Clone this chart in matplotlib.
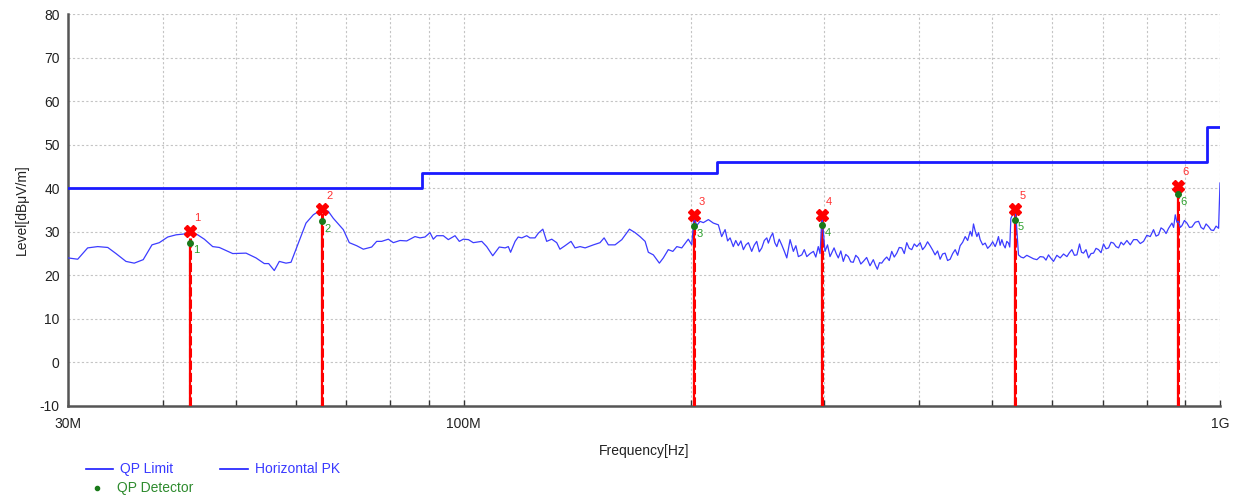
import matplotlib
matplotlib.use("Agg")
import matplotlib.pyplot as plt
from matplotlib.lines import Line2D

plt.rcParams['font.family'] = ['Liberation Sans', 'DejaVu Sans']
plt.rcParams['axes.unicode_minus'] = False

# limit line (FCC class B, 3 m) - MHz / dBuV/m
limit_freq = [30, 88, 88, 216, 216, 960, 960, 1000]
limit_level = [40, 40, 43.5, 43.5, 46, 46, 54, 54]

# horizontal peak trace
pk_freq = [
    30.0, 30.9, 31.85, 32.84, 33.86, 34.72, 35.79, 36.70, 37.72, 38.74,
    39.61, 40.64, 41.68, 42.74, 43.49, 44.52, 45.43, 46.60, 47.55, 49.53,
    51.58, 53.17, 54.53, 55.26, 56.21, 57.08, 58.25, 59.15, 60.37, 61.91,
    63.30, 65.0, 66.26, 67.27, 69.35, 70.63, 72.24, 73.71, 75.61, 76.77,
    77.95, 79.54, 80.76, 82.42, 84.12, 86.26, 87.59, 88.93, 90.30, 91.21,
    92.16, 94.03, 95.47, 97.44, 98.72, 99.93, 101.5, 103.0, 105.7, 107.3,
    109.3, 111.5, 113.5, 114.6, 115.4, 117.0, 118.1, 119.4, 121.2, 122.4,
    124.3, 125.6, 127.3, 128.8, 130.8, 132.8, 134.1, 136.2, 138.7, 140.4,
    142.6, 144.8, 148.5, 151.5, 153.4, 155.4, 158.6, 161.9, 165.7, 168.6,
    171.1, 173.8, 175.5, 178.2, 181.5, 183.7, 186.5, 189.1, 191.4, 194.3,
    198.2, 200.3, 201.7, 203.3, 205.4, 207.5, 210.7, 213.9, 217.2, 219.4,
    221.7, 223.4, 225.1, 227.3, 229.0, 230.8, 232.6, 234.4, 236.2, 238.0,
    240.4, 242.2, 244.1, 246.0, 247.9, 249.8, 251.7, 252.9, 254.6, 256.3,
    257.9, 259.5, 261.4, 263.4, 265.4, 267.5, 270.2, 272.9, 275.0, 277.1,
    280.0, 282.1, 284.3, 287.2, 290.1, 292.2, 294.4, 296.0, 297.8, 300.5,
    302.8, 305.1, 308.9, 310.9, 312.9, 315.3, 317.7, 320.1, 322.6, 325.0,
    327.5, 330.0, 332.6, 335.1, 337.7, 341.1, 344.6, 348.1, 350.2, 352.4,
    354.7, 357.1, 359.8, 362.6, 365.4, 368.2, 371.0, 373.9, 376.7, 379.6,
    382.5, 385.4, 388.3, 391.3, 394.3, 397.4, 401.4, 404.4, 407.5, 410.6,
    413.8, 417.0, 420.1, 423.3, 426.6, 429.8, 433.1, 436.4, 439.8, 443.2,
    446.6, 450.0, 453.4, 456.9, 460.4, 463.9, 467.5, 470.0, 472.2, 474.6,
    477.1, 479.5, 481.9, 485.6, 489.3, 493.0, 496.8, 500.6, 504.4, 507.0,
    509.5, 512.1, 514.8, 517.4, 520.0, 522.6, 525.3, 527.3, 529.1, 535.8,
    537.7, 541.5, 545.6, 549.8, 555.4, 561.1, 566.9, 572.7, 578.5, 584.3,
    588.8, 593.3, 597.8, 602.4, 608.6, 614.8, 621.1, 627.5, 632.3, 637.1,
    642.0, 646.9, 652.1, 656.0, 660.0, 665.1, 670.2, 675.3, 680.5, 685.7,
    690.9, 696.2, 701.5, 706.9, 712.3, 717.7, 723.2, 728.7, 734.3, 739.9,
    745.6, 753.2, 760.9, 768.7, 776.6, 784.5, 792.4, 800.5, 808.7, 816.8,
    823.1, 829.4, 835.7, 842.1, 848.6, 855.1, 863.9, 868.3, 872.7, 877.0,
    881.5, 886.0, 890.6, 897.4, 904.3, 911.2, 918.2, 927.5, 936.8, 944.0,
    951.2, 958.5, 965.8, 973.2, 980.6, 988.1, 995.7, 1000.0,
]
pk_level = [
    24.0, 23.7, 26.3, 26.6, 26.4, 25.0, 23.2, 22.8, 23.6, 27.0,
    27.5, 28.8, 29.3, 29.5, 30.1, 29.3, 28.3, 26.6, 26.4, 25.0,
    25.1, 24.0, 22.7, 22.7, 21.1, 23.2, 22.8, 23.0, 27.0, 32.0,
    33.9, 35.2, 34.7, 33.1, 30.5, 27.5, 26.8, 26.0, 26.5, 27.8,
    27.8, 28.3, 27.5, 28.0, 27.9, 28.9, 28.6, 28.8, 29.8, 28.3,
    29.1, 29.1, 28.2, 29.1, 27.8, 28.3, 28.2, 27.5, 27.8, 26.6,
    24.5, 26.5, 26.3, 26.6, 25.3, 27.8, 28.8, 28.6, 29.1, 28.6,
    28.6, 29.7, 30.6, 27.8, 28.3, 27.5, 26.0, 26.8, 27.8, 26.3,
    26.6, 26.3, 27.0, 27.5, 28.6, 27.0, 27.0, 28.2, 30.6, 29.8,
    28.9, 27.8, 25.3, 24.7, 22.8, 24.0, 25.9, 25.5, 26.6, 26.3,
    28.3, 27.0, 33.5, 31.4, 32.4, 32.1, 32.8, 32.0, 31.6, 28.9,
    30.5, 27.9, 28.6, 26.6, 28.0, 26.8, 27.9, 25.9, 27.0, 27.5,
    25.5, 26.9, 27.8, 25.4, 26.3, 28.0, 28.6, 27.4, 28.8, 29.7,
    27.5, 26.6, 28.3, 27.0, 25.6, 24.0, 28.2, 25.5, 26.8, 24.3,
    24.7, 25.9, 24.3, 25.0, 25.5, 24.2, 26.6, 25.0, 33.5, 25.5,
    27.0, 24.3, 26.3, 25.0, 24.0, 25.6, 23.2, 24.8, 24.3, 23.1,
    23.0, 24.6, 24.0, 22.6, 23.2, 24.1, 22.2, 23.6, 22.4, 21.4,
    22.9, 22.8, 23.6, 24.2, 23.4, 25.5, 24.2, 25.1, 26.4, 26.3,
    25.0, 27.5, 26.2, 25.9, 27.2, 26.6, 27.5, 25.9, 26.6, 27.7,
    26.8, 25.8, 24.7, 25.6, 23.7, 24.9, 25.1, 23.4, 23.7, 25.0,
    25.9, 24.6, 26.8, 27.6, 28.9, 28.0, 30.1, 29.0, 31.8, 30.2,
    28.9, 29.8, 28.2, 27.0, 27.4, 26.2, 26.8, 27.7, 26.6, 27.6,
    28.9, 26.9, 28.2, 27.0, 26.3, 27.8, 27.4, 26.5, 33.1, 35.0,
    32.8, 24.7, 24.2, 24.0, 24.6, 24.2, 23.8, 23.6, 24.3, 24.2,
    23.5, 24.7, 23.9, 23.2, 24.6, 24.0, 24.9, 24.3, 25.2, 25.9,
    24.6, 24.7, 27.2, 25.3, 25.1, 25.9, 24.0, 25.0, 25.1, 26.2,
    25.9, 25.2, 27.2, 26.1, 26.3, 27.6, 27.4, 26.6, 26.3, 27.6,
    27.0, 28.0, 27.0, 28.2, 28.2, 27.3, 27.8, 29.2, 28.9, 30.5,
    29.0, 29.3, 30.9, 30.5, 29.6, 30.8, 32.0, 31.0, 33.9, 32.2,
    32.4, 31.0, 31.4, 32.6, 32.0, 31.0, 31.1, 32.2, 32.4, 31.0,
    30.6, 31.8, 31.2, 30.4, 30.3, 31.3, 30.8, 41.2,
]

# final measurement markers
mk_freq = [43.5, 65.0, 201.7, 297.8, 535.8, 880.0]
mk_pk = [30.2, 35.2, 33.8, 33.8, 35.2, 40.6]
mk_qp = [27.5, 32.5, 31.3, 31.5, 32.8, 38.6]
mk_names = ['1', '2', '3', '4', '5', '6']

grid_freq = [40, 50, 60, 70, 80, 90, 100, 200, 300, 400, 500, 600, 700, 800, 900, 1000]
tick_freq = [30, 100, 1000]
tick_text = ['30M', '100M', '1G']

fig = plt.figure(figsize=(12.43, 4.97), dpi=100)
ax = fig.add_axes([0.0547, 0.1831, 0.9268, 0.7887])
ax.set_xscale('log')
ax.set_xlim(30, 1000)
ax.set_ylim(-10, 80)

# grid
for f in grid_freq:
    ax.axvline(f, color='#c4c4c4', lw=0.8, ls=(0, (2, 2)), zorder=0)
for lv in range(0, 90, 10):
    ax.axhline(lv, color='#c4c4c4', lw=0.8, ls=(0, (2, 2)), zorder=0)

# vertical marker lines
for f, pk, qp in zip(mk_freq, mk_pk, mk_qp):
    ax.plot([f, f], [-10, pk], color='red', lw=2.2, ls=(0, (3, 1)), zorder=3)
    ax.plot([f, f], [-10, qp], color='red', lw=1.6, zorder=3)

ax.plot(limit_freq, limit_level, color='#1a1aff', lw=2.0, zorder=4)
ax.plot(pk_freq, pk_level, color='#3c3cff', lw=0.9, zorder=4)

ax.plot(mk_freq, mk_pk, ls='none', marker='X', ms=9, color='red', mec='red', zorder=6)
ax.plot(mk_freq, mk_qp, ls='none', marker='o', ms=4, color='#1a7a1a', zorder=7)
for f, pk, qp, n in zip(mk_freq, mk_pk, mk_qp, mk_names):
    ax.annotate(n, (f, pk), xytext=(3, 6), textcoords='offset points',
                color='#ff3030', fontsize=8, ha='left', va='bottom')
    ax.annotate(n, (f, qp), xytext=(2, -2), textcoords='offset points',
                color='#2ca02c', fontsize=8, ha='left', va='top')

# axes styling
for s in ['top', 'right']:
    ax.spines[s].set_visible(False)
for s in ['left', 'bottom']:
    ax.spines[s].set_color('#555555')
    ax.spines[s].set_linewidth(1.8)

ax.set_yticks(range(-10, 90, 10))
ax.tick_params(axis='y', length=0, labelsize=10, pad=6, labelcolor='#222222')
ax.xaxis.set_minor_locator(matplotlib.ticker.NullLocator())
ax.set_xticks(grid_freq, minor=True)
ax.set_xticks(tick_freq)
ax.set_xticklabels(tick_text)
ax.tick_params(axis='x', which='both', direction='in', length=4, width=1,
               color='#333333', labelsize=10, pad=8, labelcolor='#222222')
ax.tick_params(axis='x', which='minor', labelbottom=False)

ax.set_xlabel('Frequency[Hz]', fontsize=10, color='#222222', labelpad=9)
ax.set_ylabel('Level[dBμV/m]', fontsize=10, color='#222222', labelpad=8)

# legend drawn by hand below the axes
fig.add_artist(Line2D([86 / 1243, 113 / 1243], [1 - 469 / 497] * 2,
                      color='#1a1aff', lw=1.2, transform=fig.transFigure))
fig.text(120 / 1243, 1 - 469 / 497, 'QP Limit', color='#3a3aff', fontsize=10, va='center')
fig.add_artist(Line2D([220 / 1243, 248 / 1243], [1 - 469 / 497] * 2,
                      color='#1a1aff', lw=1.2, transform=fig.transFigure))
fig.text(255 / 1243, 1 - 469 / 497, 'Horizontal PK', color='#3a3aff', fontsize=10, va='center')
fig.add_artist(Line2D([97 / 1243], [1 - 488 / 497], marker='o', ms=3,
                      color='#1a7a1a', ls='none', transform=fig.transFigure))
fig.text(117 / 1243, 1 - 488 / 497, 'QP Detector', color='#2e8b2e', fontsize=10, va='center')

fig.savefig('out.png', dpi=100)
